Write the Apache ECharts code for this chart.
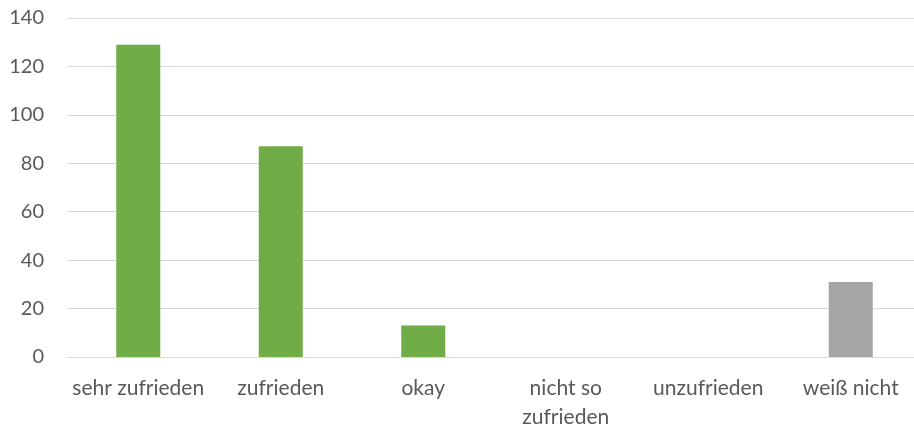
<!DOCTYPE html>
<html>
<head>
<meta charset="utf-8">
<script src="https://cdn.jsdelivr.net/npm/echarts@6/dist/echarts.min.js"></script>
<style>html,body{margin:0;padding:0;background:#fff;}#c{width:914px;height:432px;}</style>
</head>
<body>
<div id="c"></div>
<script>
const categories = ['sehr zufrieden', 'zufrieden', 'okay', 'nicht so\nzufrieden', 'unzufrieden', 'weiß nicht'];
const values = [129, 87, 13, 0, 0, 31];
const barColors = ['#70AD47', '#70AD47', '#70AD47', '#70AD47', '#70AD47', '#A5A5A5'];
const yTicks = { min: 0, max: 140, interval: 20 };

const chart = echarts.init(document.getElementById('c'));
chart.setOption({
  animation: false,
  grid: { left: 67, width: 855, top: 18, bottom: 75, containLabel: false, outerBoundsMode: 'none' },
  xAxis: {
    type: 'category',
    data: categories,
    axisTick: { show: false },
    axisLine: { lineStyle: { color: '#D9D9D9', width: 1 } },
    axisLabel: { color: '#595959', fontFamily: 'Lato', fontSize: 21, margin: 17, lineHeight: 29, interval: 0 }
  },
  yAxis: {
    type: 'value',
    min: yTicks.min, max: yTicks.max, interval: yTicks.interval,
    axisLine: { show: false },
    axisTick: { show: false },
    splitLine: { lineStyle: { color: '#D9D9D9', width: 1 } },
    axisLabel: { color: '#595959', fontFamily: 'Lato', fontSize: 20, margin: 23 }
  },
  series: [{
    type: 'bar',
    data: values.map((v, i) => ({ value: v, itemStyle: { color: barColors[i] } })),
    barWidth: 44
  }]
});
</script>
</body>
</html>
